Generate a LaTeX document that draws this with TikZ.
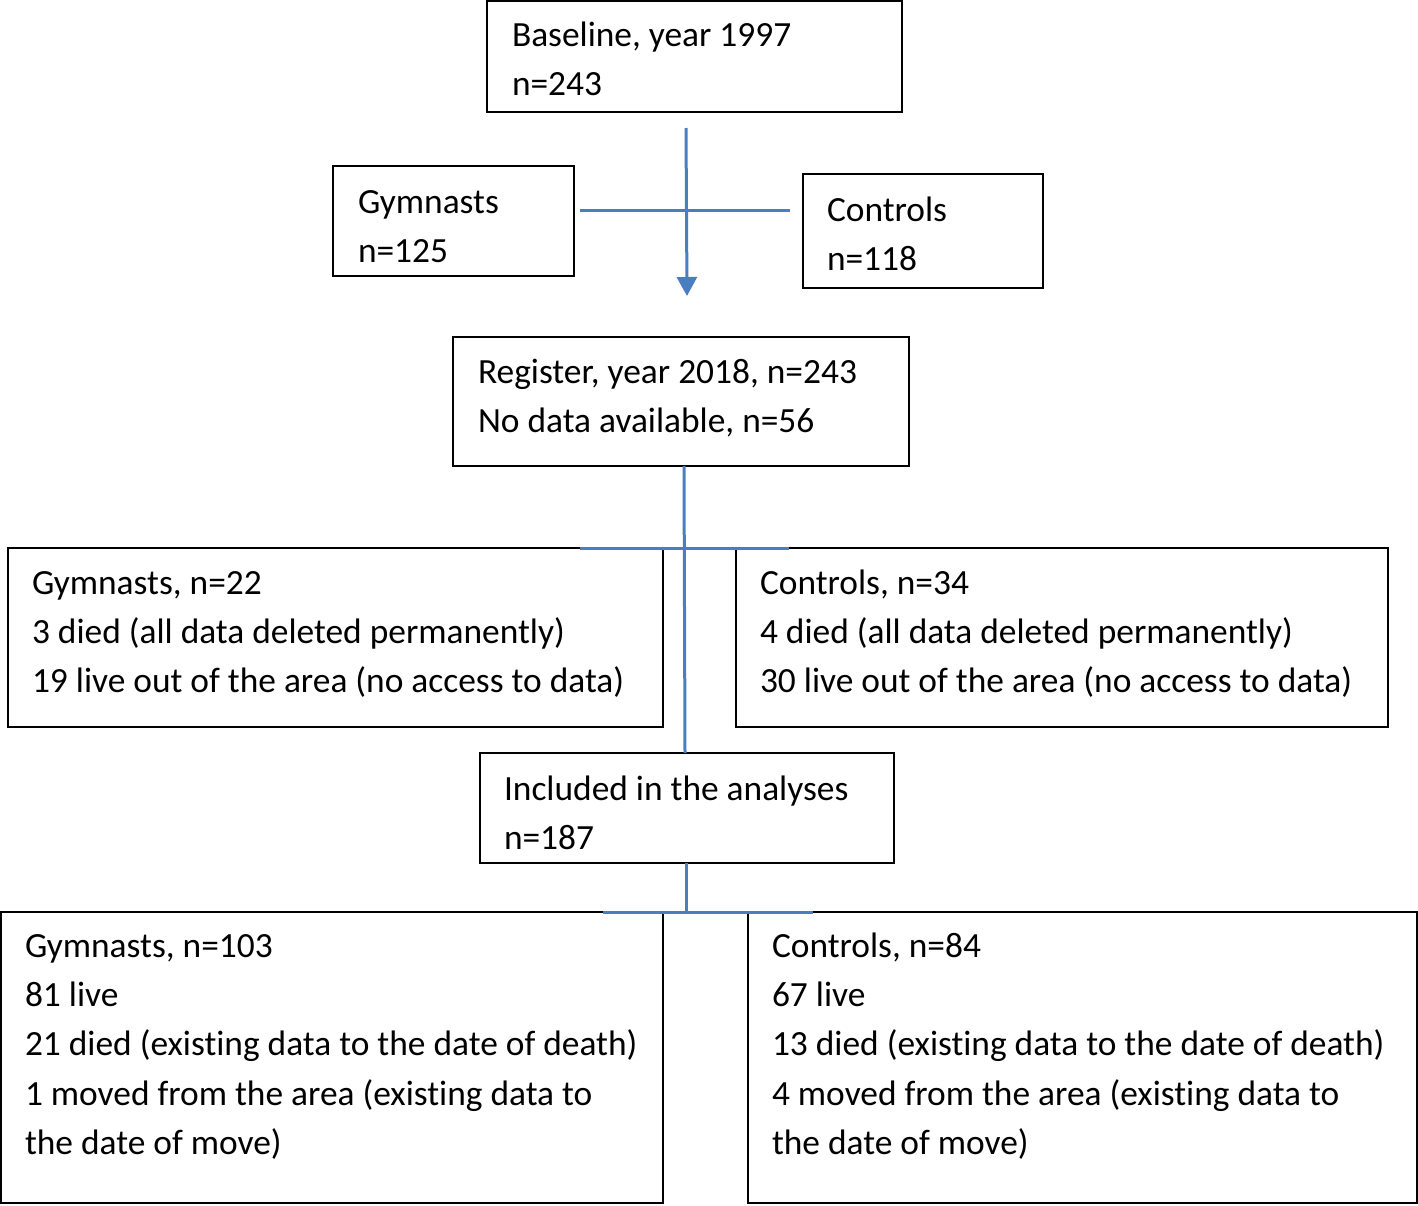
\documentclass[tikz,border=0pt]{standalone}
\usepackage{fontspec}
\setmainfont[Ligatures=NoCommon]{Carlito}
\usetikzlibrary{arrows.meta}
\definecolor{flowblue}{RGB}{74,126,193}
\tikzset{
  box/.style={draw=black, line width=1.8pt, inner sep=0pt, outer sep=0pt, rectangle},
  txt/.style={anchor=base west, inner sep=0pt, outer sep=0pt, align=left,
    font=\fontsize{35.4}{49.3}\selectfont},
  conn/.style={draw=flowblue, line width=3pt},
}
\begin{document}
\begin{tikzpicture}[x=1pt,y=-1pt]
\useasboundingbox (0,0) rectangle (1418,1205);
% boxes
\node[box, minimum width=415pt, minimum height=111pt] (base) at (694.5,56.5) {};
\node[box, minimum width=241pt, minimum height=110pt] (gym1) at (453.5,221) {};
\node[box, minimum width=240pt, minimum height=114pt] (ctl1) at (923,231) {};
\node[box, minimum width=456pt, minimum height=129pt] (reg) at (681,401.5) {};
\node[box, minimum width=655pt, minimum height=179pt] (gym2) at (335.5,637.5) {};
\node[box, minimum width=652pt, minimum height=179pt] (ctl2) at (1062,637.5) {};
\node[box, minimum width=414pt, minimum height=110pt] (incl) at (687,808) {};
\node[box, minimum width=662pt, minimum height=291pt] (gym3) at (332,1057.5) {};
\node[box, minimum width=669pt, minimum height=291pt] (ctl3) at (1082.5,1057.5) {};
% texts (anchored at the baseline of the last line)
\node[txt] (tbase) at (512,95.3) {Baseline, year 1997\\n=243};
\node[txt] (tgym1) at (358,262.3) {Gymnasts\\n=125};
\node[txt] (tctl1) at (827,270.3) {Controls\\n=118};
\node[txt] (treg) at (478,432.3) {Register, year 2018, n=243\\No data available, n=56};
\node[txt] (tgym2) at (32,692.6) {Gymnasts, n=22\\3 died (all data deleted permanently)\\19 live out of the area (no access to data)};
\node[txt] (tctl2) at (760,692.6) {Controls, n=34\\4 died (all data deleted permanently)\\30 live out of the area (no access to data)};
\node[txt] (tincl) at (504,849.3) {Included in the analyses\\n=187};
\node[txt] (tgym3) at (25,1154.5) {Gymnasts, n=103\\81 live\\21 died (existing data to the date of death)\\1 moved from the area (existing data to\\the date of move)};
\node[txt] (tctl3) at (772,1154.5) {Controls, n=84\\67 live\\13 died (existing data to the date of death)\\4 moved from the area (existing data to\\the date of move)};
% connector end points
\coordinate (a1) at (686,128);
\coordinate (a2) at (687,296);
\coordinate (h1l) at (580,210);
\coordinate (h1r) at (790,210);
\coordinate (v2t) at (684,466);
\coordinate (v2b) at (685,753);
\coordinate (h2l) at (580,548);
\coordinate (h2r) at (789,548);
\coordinate (v3t) at (686,863);
\coordinate (v3b) at (686,912);
\coordinate (h3l) at (603,912);
\coordinate (h3r) at (813,912);
% connectors
\draw[conn, -{Triangle[width=20pt,length=19pt]}] (a1) -- (a2);
\draw[conn] (h1l) -- (h1r);
\draw[conn] (v2t) -- (v2b);
\draw[conn] (h2l) -- (h2r);
\draw[conn] (v3t) -- (v3b);
\draw[conn] (h3l) -- (h3r);
\end{tikzpicture}
\end{document}
